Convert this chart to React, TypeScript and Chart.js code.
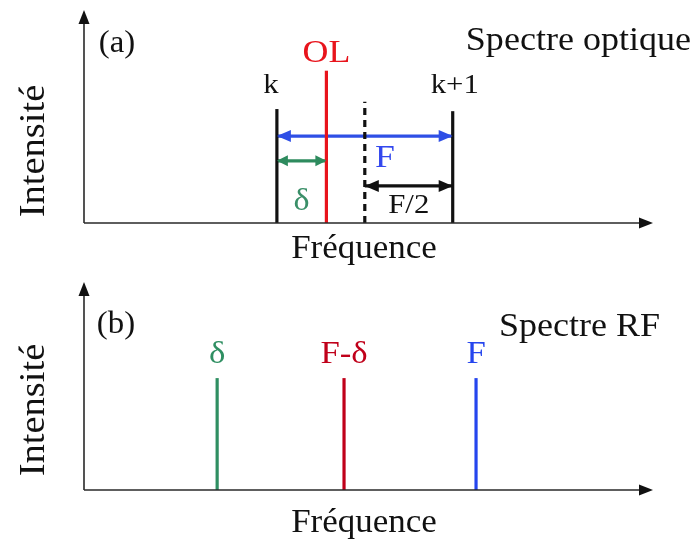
import React, { useEffect, useRef } from 'react';
import { Chart, registerables } from 'chart.js';

Chart.register(...registerables);

const FONT = '"Liberation Serif", "Times New Roman", serif';

// ---- Panel (a): optical spectrum ----
const opticalLabels = ['k', 'OL', 'k+1'];
const opticalPositions = [33.9, 42.6, 64.8];
const opticalHeights = [53.5, 71.5, 52.5];
const opticalColors = ['#111111', '#e8141c', '#111111'];
const halfwayHeight = 56.9;
const arrowLabels = ['F', 'δ', 'F/2'];
const arrowLevels = [40.8, 29.2, 17.4];
const arrowColors = ['#2f4fe6', '#2e8b5e', '#111111'];
const arrowLabelColors = ['#3348ee', '#3a8f68', '#111111'];

// ---- Panel (b): RF spectrum ----
const rfLabels = ['δ', 'F-δ', 'F'];
const rfPositions = [23.4, 45.7, 68.9];
const rfHeights = [53.8, 53.8, 53.8];
const rfColors = ['#2f8f62', '#c0001a', '#2545ee'];

const panelTitles = ['Spectre optique', 'Spectre RF'];
const panelTags = ['(a)', '(b)'];
const xTitle = 'Fréquence';
const yTitle = 'Intensité';

type Txt = { text: string; x: number; y: number; size: number; color?: string; align?: CanvasTextAlign; rotate?: boolean; sx?: number };

function drawText(ctx: CanvasRenderingContext2D, t: Txt) {
  ctx.save();
  ctx.font = `${t.size}px ${FONT}`;
  ctx.fillStyle = t.color || '#111111';
  ctx.textAlign = t.align || 'center';
  ctx.textBaseline = 'alphabetic';
  ctx.translate(t.x, t.y);
  if (t.rotate) ctx.rotate(-Math.PI / 2);
  ctx.scale(t.sx ?? 1.06, 1);
  ctx.fillText(t.text, 0, 0);
  ctx.restore();
}

function head(ctx: CanvasRenderingContext2D, x: number, y: number, dx: number, dy: number, len: number, half: number, color: string) {
  const n = Math.hypot(dx, dy) || 1;
  const ux = dx / n, uy = dy / n;
  const px = -uy, py = ux;
  ctx.save();
  ctx.fillStyle = color;
  ctx.beginPath();
  ctx.moveTo(x, y);
  ctx.lineTo(x - ux * len + px * half, y - uy * len + py * half);
  ctx.lineTo(x - ux * len - px * half, y - uy * len - py * half);
  ctx.closePath();
  ctx.fill();
  ctx.restore();
}

function decoPlugin(textsFn: (chart: any) => Txt[]) {
  return {
    id: 'deco',
    afterDatasetsDraw(chart: any) {
      const ctx: CanvasRenderingContext2D = chart.ctx;
      const { left, right, top, bottom } = chart.chartArea;
      ctx.save();
      ctx.strokeStyle = '#2a2a2a';
      ctx.lineWidth = 1.6;
      ctx.beginPath();
      ctx.moveTo(left, bottom);
      ctx.lineTo(right - 8, bottom);
      ctx.moveTo(left, bottom);
      ctx.lineTo(left, top + 8);
      ctx.stroke();
      ctx.restore();
      head(ctx, right, bottom, 1, 0, 14, 5.5, '#111111');
      head(ctx, left, top, 0, -1, 14, 5.5, '#111111');
      chart.data.datasets.forEach((ds: any, i: number) => {
        if (!ds.arrow) return;
        const meta = chart.getDatasetMeta(i);
        const p0 = meta.data[0];
        const p1 = meta.data[1];
        head(ctx, p0.x, p0.y, p0.x - p1.x, p0.y - p1.y, ds.arrowLen, ds.arrowHalf, ds.borderColor);
        head(ctx, p1.x, p1.y, p1.x - p0.x, p1.y - p0.y, ds.arrowLen, ds.arrowHalf, ds.borderColor);
      });
      textsFn(chart).forEach((t) => drawText(ctx, t));
    },
  };
}

function vline(x: number, h: number, color: string, dash: number[] = []) {
  return {
    data: [{ x, y: 0 }, { x, y: h }],
    borderColor: color,
    borderWidth: 3.2,
    borderDash: dash,
    pointRadius: 0,
    showLine: true,
    clip: false,
  } as any;
}

function hArrow(x0: number, x1: number, y: number, color: string, len: number, half: number) {
  return {
    data: [{ x: x0, y }, { x: x1, y }],
    borderColor: color,
    borderWidth: 3.2,
    pointRadius: 0,
    showLine: true,
    clip: false,
    arrow: true,
    arrowLen: len,
    arrowHalf: half,
  } as any;
}

function baseOptions(padBottom: number) {
  return {
    responsive: false,
    animation: false,
    events: [],
    layout: { padding: { left: 84, right: 41, top: 10, bottom: padBottom } },
    plugins: { legend: { display: false }, tooltip: { enabled: false }, title: { display: false } },
    scales: {
      x: { type: 'linear', min: 0, max: 100, display: false },
      y: { type: 'linear', min: 0, max: 100, display: false },
    },
  } as any;
}

export default function App() {
  const refA = useRef<HTMLCanvasElement>(null);
  const refB = useRef<HTMLCanvasElement>(null);

  useEffect(() => {
    const [kPos, olPos, k1Pos] = opticalPositions;
    const midPos = (kPos + k1Pos) / 2;

    const datasetsA = [
      ...opticalPositions.map((p, i) => vline(p, opticalHeights[i], opticalColors[i])),
      vline(midPos, halfwayHeight, '#111111', [7, 5]),
      hArrow(kPos, k1Pos, arrowLevels[0], arrowColors[0], 14, 6),
      hArrow(kPos, olPos, arrowLevels[1], arrowColors[1], 11, 5.5),
      hArrow(midPos, k1Pos, arrowLevels[2], arrowColors[2], 14, 6),
    ];
    datasetsA[1].order = -1;

    const textsA = (chart: any): Txt[] => {
      const xs = chart.scales.x;
      const ys = chart.scales.y;
      const { left, right, top, bottom } = chart.chartArea;
      const X = (v: number) => xs.getPixelForValue(v);
      const Y = (v: number) => ys.getPixelForValue(v);
      return [
        { text: panelTags[0], x: left + 33, y: top + 42, size: 31 },
        { text: panelTitles[0], x: right + 38, y: top + 40, size: 34, align: 'right' },
        { text: opticalLabels[0], x: X(kPos) - 6, y: Y(opticalHeights[0]) - 16, size: 28, sx: 1.1 },
        { text: opticalLabels[1], x: X(olPos), y: Y(opticalHeights[1]) - 9, size: 32, color: '#e8141c', sx: 1.12 },
        { text: opticalLabels[2], x: X(k1Pos) + 2, y: Y(opticalHeights[2]) - 18, size: 28, sx: 1.1 },
        { text: arrowLabels[0], x: X(midPos) + 20, y: Y(arrowLevels[0]) + 31, size: 31, color: arrowLabelColors[0], sx: 1.15 },
        { text: arrowLabels[1], x: (X(kPos) + X(olPos)) / 2, y: Y(arrowLevels[1]) + 49, size: 31, color: arrowLabelColors[1], sx: 1.1 },
        { text: arrowLabels[2], x: (X(midPos) + X(k1Pos)) / 2, y: Y(arrowLevels[2]) + 27, size: 28, color: arrowLabelColors[2], sx: 1.1 },
        { text: xTitle, x: 364, y: bottom + 35, size: 33 },
        { text: yTitle, x: 44, y: 151, size: 35, rotate: true, sx: 1.1 },
      ];
    };

    const datasetsB = rfPositions.map((p, i) => vline(p, rfHeights[i], rfColors[i]));
    const textsB = (chart: any): Txt[] => {
      const xs = chart.scales.x;
      const ys = chart.scales.y;
      const { left, top, bottom } = chart.chartArea;
      const X = (v: number) => xs.getPixelForValue(v);
      const Y = (v: number) => ys.getPixelForValue(v);
      return [
        { text: panelTags[1], x: left + 32, y: top + 51, size: 31 },
        { text: panelTitles[1], x: 499, y: top + 54, size: 34, align: 'left' },
        ...rfLabels.map((l, i) => ({ text: l, x: X(rfPositions[i]), y: Y(rfHeights[i]) - 15, size: 31, color: rfColors[i], sx: 1.12 })),
        { text: xTitle, x: 364, y: bottom + 42, size: 33 },
        { text: yTitle, x: 44, y: 138, size: 35, rotate: true, sx: 1.1 },
      ];
    };

    const chartA = new Chart(refA.current!, {
      type: 'scatter',
      data: { datasets: datasetsA },
      options: baseOptions(49),
      plugins: [decoPlugin(textsA)],
    } as any);
    const chartB = new Chart(refB.current!, {
      type: 'scatter',
      data: { datasets: datasetsB },
      options: baseOptions(55),
      plugins: [decoPlugin(textsB)],
    } as any);
    return () => {
      chartA.destroy();
      chartB.destroy();
    };
  }, []);

  return (
    <div style={{ position: 'absolute', left: 0, top: 0, width: 694, height: 545, background: '#ffffff' }}>
      <canvas ref={refA} width={694} height={272} style={{ display: 'block', width: 694, height: 272 }} />
      <canvas ref={refB} width={694} height={273} style={{ display: 'block', width: 694, height: 273 }} />
    </div>
  );
}
